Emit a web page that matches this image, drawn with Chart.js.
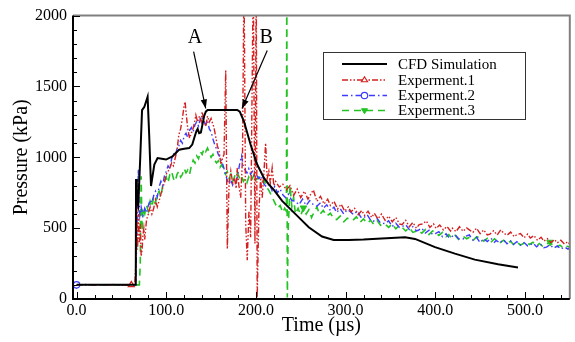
<!DOCTYPE html>
<html><head><meta charset="utf-8">
<script src="https://cdn.jsdelivr.net/npm/chart.js@4/dist/chart.umd.min.js"></script>
<style>html,body{margin:0;padding:0;background:#fff;}#wrap{width:575px;height:342px;}</style>
</head><body><div id="wrap"><canvas id="c" width="575" height="342"></canvas></div>
<script>
// ---------------- DATA ----------------
const seriesNames = ['CFD Simulation', 'Experment.1', 'Experment.2', 'Experment.3'];
const xTickValues = [0, 100, 200, 300, 400, 500];
const yTickValues = [0, 500, 1000, 1500, 2000];
const annotationLabels = ['A', 'B'];

const cfdTime = [0,30,66,66.3,67.2,68.8,71,73,75.6,77.4,
  79.2,81,83,86.7,90.3,95,99.7,107,114.4,120,
  125.6,129,131.1,133.5,135,136.7,138.6,140.3,142.2,144.1,
  146,160,179.2,182,186.7,194.1,201.4,208.9,214.4,220,
  229.2,244.1,258.9,273.7,286.7,303.3,320,340.3,366.3,377.4,
  399.7,421.9,444.1,470,492.2];
const cfdPressure = [100,100,100,846,700,657,1000,1333,1357,1392,
  1427,1150,797,949,995,990,984,1007,1054,1060,
  1065,1090,1135,1182,1200,1170,1175,1229,1290,1322,
  1334,1334,1334,1322,1252,1089,949,855,809,770,
  692,599,506,441,417,417,420,427,436,424,
  366,320,278,245,222];

const exp1Time = [0,10,20,30,40,50,61,64,65,66,
  67,68,69,70,71,72,73,74,75,76,
  78,80,82,84,86,88,90,92,94,96,
  98,100,102,104,106,108,110,112,114,116,
  118,120,121,122,124,126,128,130,132,133,
  135,137,139,140,142,144,146,148,150,152,
  153,155,157,159,161,163,164.4,166.3,168.1,170,
  172,174,176,178,179,181,183,185,186.7,188.6,
  190.3,192.2,194.1,197,198.9,200.3,201.4,203.3,205.2,207,
  209,210.8,212.5,214.4,216,218.1,220,222,226,230,
  234,238,242,246,250,254,258,262,264,268,
  272,276,280,283,287,291,295,299,303,306,
  310,314,318,321,325,329,332,336,340,344,
  348,352,356,360,363,367,371,375,379,382,
  386,390,394,398,401,405,409,413,417,419,
  423,427,431,435,438,442,446,450,454,458,
  461,465,469,473,476,480,484,488,491,495,
  499,503,506,510,514,518,521,525,529,533,
  536,540,544,548,550];
const exp1Pressure = [100,102,99,101,100,98,100,101,110,250,
  700,350,600,400,530,300,343,450,500,420,
  560,600,650,600,640,700,650,692,740,785,
  820,880,900,925,960,940,995,1050,1159,1200,
  1275,1368,1392,1322,1200,1135,1170,1205,1260,1298,
  1250,1290,1252,1322,1260,1217,1290,1250,1275,1230,
  1217,1150,1080,1042,949,1000,1019,1613,355,800,
  902,820,855,780,925,800,715,995,2300,529,
  273,622,436,2300,392,2300,0,622,855,715,
  900,1100,850,902,820,925,800,830,790,810,
  770,800,730,775,715,760,705,750,770,690,
  725,670,705,660,690,635,670,620,650,615,
  640,595,625,590,620,575,605,565,600,555,
  585,545,575,530,525,555,510,540,500,525,
  530,550,505,530,498,522,488,512,480,500,
  475,510,478,502,488,470,500,462,488,452,
  458,482,452,488,466,450,472,440,455,462,
  432,458,430,448,414,436,408,426,398,420,
  396,415,388,405,385];

const exp2Time = [0,10,20,30,40,50,60,66,67,68.9,
  69.5,70.5,72,74,76,78,80,82,84,86,
  88,90,92,94,96,98,100,102,104,106,
  108,110,112,114,116,118,120,122,124,126,
  128,130,132,134,136,138,140,142,144,146,
  148,150,152,154,156,158,160,162,164,166,
  168,170,172,174,176,178,180,182,184,186,
  188,190,192,194,196,198,200,203,206,209,
  212,215,218,221,224,227,230,233,236,240,
  244,248,252,256,260,264,268,272,275,279,
  283,287,290,294,298,302,305,309,313,317,
  320,324,328,331,335,339,344,348,352,356,
  360,363,367,371,375,379,381,385,389,393,
  397,400,404,408,412,415,418,422,426,431,
  435,438,442,446,450,454,458,462,466,468,
  472,476,480,484,487,491,495,499,503,505,
  509,513,517,521,524,528,532,536,540,544,
  548,550];
const exp2Pressure = [100,99,101,100,102,100,99,100,400,916,
  700,587,650,590,640,610,660,700,680,730,
  760,720,790,830,800,870,900,940,920,990,
  1030,1010,1060,1080,1120,1100,1150,1170,1140,1190,
  1210,1180,1230,1250,1220,1270,1290,1250,1230,1260,
  1200,1180,1130,1090,1060,1020,1000,970,930,880,
  840,810,840,805,850,830,880,960,1010,930,
  910,890,920,880,900,870,880,850,870,810,
  790,815,765,795,750,775,735,715,740,695,
  690,665,705,660,695,665,655,680,640,665,
  625,648,610,638,600,632,618,595,620,578,
  570,595,555,548,570,535,532,552,512,535,
  505,510,525,490,510,480,485,500,465,485,
  455,462,475,440,460,435,438,455,425,424,
  445,452,415,435,398,425,405,430,400,413,
  395,420,390,410,385,405,380,398,375,378,
  395,368,390,362,366,383,358,375,352,368,
  352,360];

const exp3Time = [0,10,20,30,40,50,60,70,71,72,
  73,74,76,78,80,82,84,86,88,90,
  92,94,96,98,100,102,104,106,108,110,
  112,114,116,118,120,122,124,126,128,130,
  132,134,136,138,140,142,144,146,148,150,
  152,154,156,158,160,162,164,166,168,170,
  172,174,176,178,180,182,184,186,188,190,
  192,194,196,198,200,203,206,209,212,215,
  218,221,224,227,230,232,234,234.4,235,236,
  238,240,242,244,247,250,253,256,259,262,
  265,268,271,275,279,283,287,290,294,298,
  302,308,312,316,320,324,328,331,335,339,
  344,348,352,356,360,363,367,371,375,381,
  385,389,393,397,400,404,408,412,415,418,
  422,426,431,435,438,442,446,450,454,458,
  462,466,468,472,476,480,484,487,491,495,
  501,505,509,513,516,520,524,528,532,535,
  539,543,547,550];
const exp3Pressure = [100,101,99,100,101,99,100,100,250,867,
  480,640,600,660,620,690,650,720,680,740,
  760,720,800,830,860,820,880,900,850,830,
  880,900,860,880,920,890,910,880,940,980,
  960,1010,990,1040,1020,1060,1040,1065,1030,1000,
  1020,980,960,975,930,950,910,880,900,850,
  880,830,860,900,880,850,870,830,850,820,
  860,830,850,880,840,860,820,840,790,760,
  720,680,640,660,610,640,620,2300,10,500,
  800,650,720,600,640,590,643,600,630,575,
  615,650,595,625,585,605,565,560,585,545,
  570,555,580,540,565,535,555,530,555,520,
  529,505,530,495,520,506,480,505,470,483,
  465,490,455,480,471,448,470,440,455,430,
  450,420,442,425,436,412,438,436,408,428,
  400,425,413,395,415,390,408,385,402,380,
  401,385,400,375,392,370,388,401,372,366,
  380,358,372,366];

// times at which the series symbols are shown
const exp1MarkerTimes = [61];
const exp2MarkerTimes = [0];
const exp3MarkerTimes = [0, 253, 528];

// ---------------- CHART ----------------
const SERIF = "'Liberation Serif', 'Times New Roman', serif";
const toPoints = (ts, ps) => ts.map((t, i) => ({x: t, y: ps[i]}));
const markerRadius = (times, r) => (ctx) => (ctx.raw && times.includes(ctx.raw.x)) ? r : 0;

const datasets = [
  {label: seriesNames[0], data: toPoints(cfdTime, cfdPressure), borderColor: '#000', borderWidth: 2,
   pointRadius: 0, pointStyle: false, tension: 0},
  {label: seriesNames[1], data: toPoints(exp1Time, exp1Pressure), borderColor: '#d42020', borderWidth: 1.4,
   borderDash: [6, 2, 1.5, 2, 1.5, 2], pointStyle: 'triangle', pointRadius: markerRadius(exp1MarkerTimes, 3.5),
   pointBorderColor: '#d42020', pointBackgroundColor: '#fff', pointBorderWidth: 1.2, tension: 0},
  {label: seriesNames[2], data: toPoints(exp2Time, exp2Pressure), borderColor: '#3c3cff', borderWidth: 1.4,
   borderDash: [6, 3, 1.5, 3], pointStyle: 'circle', pointRadius: markerRadius(exp2MarkerTimes, 3.2),
   pointBorderColor: '#3c3cff', pointBackgroundColor: '#fff', pointBorderWidth: 1.2, tension: 0},
  {label: seriesNames[3], data: toPoints(exp3Time, exp3Pressure), borderColor: '#22c322', borderWidth: 1.6,
   borderDash: [7, 5], pointStyle: 'triangle', pointRotation: 180, pointRadius: markerRadius(exp3MarkerTimes, 3.8),
   pointBorderColor: '#22c322', pointBackgroundColor: '#22c322', pointBorderWidth: 1, tension: 0}
];

function drawMarker(ctx, ds, x, y, r) {
  if (!ds.pointStyle) return;
  ctx.save();
  ctx.setLineDash([]);
  ctx.strokeStyle = ds.pointBorderColor; ctx.fillStyle = ds.pointBackgroundColor; ctx.lineWidth = ds.pointBorderWidth || 1;
  ctx.beginPath();
  if (ds.pointStyle === 'circle') {
    ctx.arc(x, y, r, 0, Math.PI * 2);
  } else {
    const dir = ds.pointRotation === 180 ? 1 : -1;
    const h = r * 1.5;
    ctx.moveTo(x, y + dir * r);
    ctx.lineTo(x - r * 0.95, y - dir * r * 0.55);
    ctx.lineTo(x + r * 0.95, y - dir * r * 0.55);
    ctx.closePath();
  }
  ctx.fill(); ctx.stroke();
  ctx.restore();
}

const decorPlugin = {
  id: 'decor',
  afterDatasetsDraw(chart) {
    const {ctx, chartArea: a, scales: {x, y}} = chart;
    ctx.save();
    // frame
    ctx.setLineDash([]);
    ctx.strokeStyle = '#808080'; ctx.lineWidth = 2;
    ctx.beginPath(); ctx.moveTo(a.left, a.top); ctx.lineTo(a.right, a.top); ctx.lineTo(a.right, a.bottom); ctx.stroke();
    ctx.strokeStyle = '#000'; ctx.lineWidth = 2;
    ctx.beginPath(); ctx.moveTo(a.left, a.top); ctx.lineTo(a.left, a.bottom); ctx.lineTo(a.right, a.bottom); ctx.stroke();
    // inward ticks
    ctx.lineWidth = 1;
    ctx.beginPath();
    for (let v = 0; v <= x.max; v += 20) {
      const px = Math.round(x.getPixelForValue(v)) + 0.5;
      const len = (v % 100 === 0) ? 7 : 4;
      ctx.moveTo(px, a.bottom); ctx.lineTo(px, a.bottom - len);
    }
    for (let v = 0; v <= y.max; v += 100) {
      const py = Math.round(y.getPixelForValue(v)) + 0.5;
      const len = (v % 500 === 0) ? 7 : 4;
      ctx.moveTo(a.left, py); ctx.lineTo(a.left + len, py);
    }
    ctx.stroke();

    // annotations A / B with arrows (positioned in data space)
    const ann = [
      {text: annotationLabels[0], at: [132, 1846], from: [130.5, 1745], to: [144, 1345]},
      {text: annotationLabels[1], at: [211.4, 1846], from: [212.6, 1753], to: [184.5, 1345]}
    ];
    ctx.fillStyle = '#000'; ctx.strokeStyle = '#000';
    ctx.font = '20px ' + SERIF; ctx.textAlign = 'center'; ctx.textBaseline = 'middle';
    ann.forEach(o => {
      ctx.fillText(o.text, x.getPixelForValue(o.at[0]), y.getPixelForValue(o.at[1]));
      const x1 = x.getPixelForValue(o.from[0]), y1 = y.getPixelForValue(o.from[1]);
      const x2 = x.getPixelForValue(o.to[0]), y2 = y.getPixelForValue(o.to[1]);
      ctx.lineWidth = 1.2;
      ctx.beginPath(); ctx.moveTo(x1, y1); ctx.lineTo(x2, y2); ctx.stroke();
      const ang = Math.atan2(y2 - y1, x2 - x1), L = 9, W = 3.2;
      const bx = x2 - L * Math.cos(ang), by = y2 - L * Math.sin(ang);
      ctx.beginPath();
      ctx.moveTo(x2, y2);
      ctx.lineTo(bx + W * Math.sin(ang), by - W * Math.cos(ang));
      ctx.lineTo(bx - W * Math.sin(ang), by + W * Math.cos(ang));
      ctx.closePath(); ctx.fill();
    });

    // legend box
    const L = {left: 323, top: 52, right: 525, bottom: 119};
    ctx.fillStyle = '#fff';
    ctx.fillRect(L.left, L.top, L.right - L.left, L.bottom - L.top);
    ctx.strokeStyle = '#333'; ctx.lineWidth = 1;
    ctx.strokeRect(L.left + 0.5, L.top + 0.5, L.right - L.left, L.bottom - L.top);
    const rows = [64, 80, 95.5, 110.5];
    ctx.font = '15px ' + SERIF; ctx.textAlign = 'left'; ctx.textBaseline = 'middle';
    chart.data.datasets.forEach((ds, i) => {
      const yy = rows[i];
      ctx.save();
      ctx.strokeStyle = ds.borderColor; ctx.lineWidth = ds.borderWidth;
      ctx.setLineDash(ds.borderDash || []);
      ctx.beginPath(); ctx.moveTo(342, yy); ctx.lineTo(387, yy); ctx.stroke();
      ctx.restore();
      drawMarker(ctx, ds, 364.5, yy, 3.2);
      ctx.fillStyle = '#000';
      ctx.fillText(ds.label, 398, yy + 1);
    });
    ctx.restore();
  }
};

new Chart(document.getElementById('c'), {
  type: 'line',
  data: {datasets},
  options: {
    responsive: false,
    animation: false,
    devicePixelRatio: 1,
    layout: {padding: {top: 13, right: 3, left: 0, bottom: 0}},
    plugins: {legend: {display: false}, tooltip: {enabled: false}},
    scales: {
      x: {
        type: 'linear', min: -4, max: 550,
        grid: {display: false, drawTicks: false}, border: {display: false},
        afterBuildTicks: s => { s.ticks = xTickValues.map(v => ({value: v})); },
        afterFit: s => { s.height = 43; },
        ticks: {padding: 2, color: '#000', font: {family: SERIF, size: 16}, maxRotation: 0, autoSkip: false,
                callback: v => Number(v).toFixed(1)},
        title: {display: true, text: 'Time (µs)', color: '#000', font: {family: SERIF, size: 20}, padding: {top: 0, bottom: 4}}
      },
      y: {
        type: 'linear', min: 0, max: 2000,
        grid: {display: false, drawTicks: false}, border: {display: false},
        afterBuildTicks: s => { s.ticks = yTickValues.map(v => ({value: v})); },
        afterFit: s => { s.width = 73; },
        ticks: {padding: 6, color: '#000', font: {family: SERIF, size: 16}, autoSkip: false,
                callback: v => String(v)},
        title: {display: true, text: 'Pressure (kPa)', color: '#000', font: {family: SERIF, size: 20}, padding: {top: 10, bottom: 0}}
      }
    }
  },
  plugins: [decorPlugin]
});
</script>
</body></html>
